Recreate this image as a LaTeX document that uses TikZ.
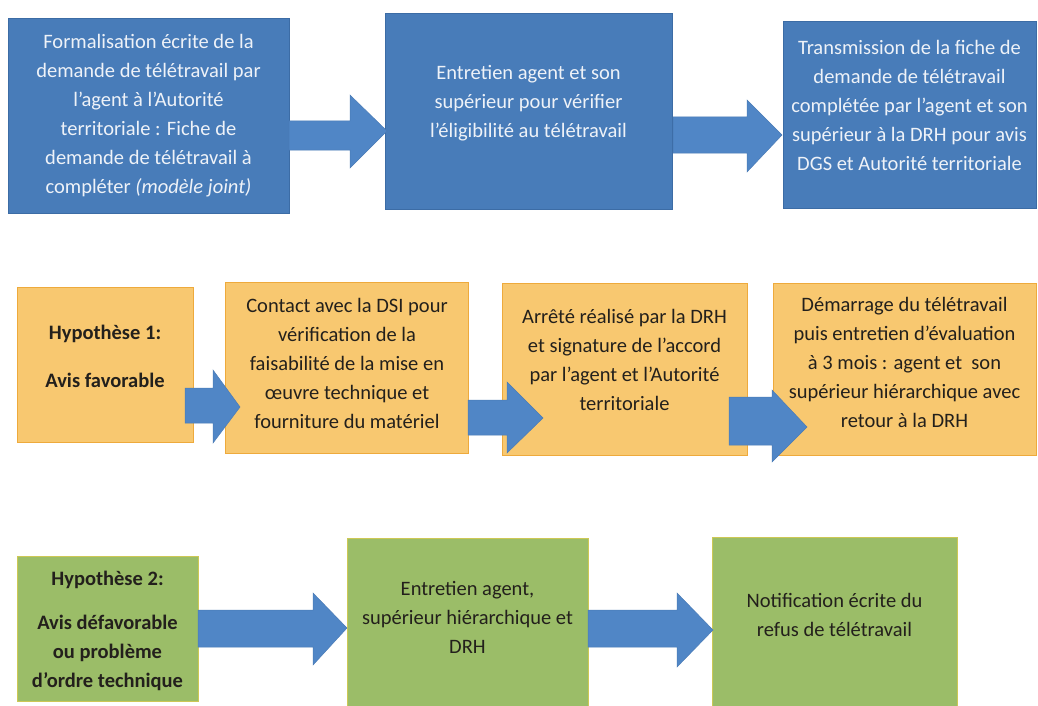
\documentclass[tikz,border=0pt]{standalone}
\usepackage{fontspec}
\setmainfont{Carlito}
\definecolor{boxblue}{RGB}{72,124,185}
\definecolor{boxblueedge}{RGB}{60,108,165}
\definecolor{arrowblue}{RGB}{80,134,198}
\definecolor{bluetext}{RGB}{238,242,248}
\definecolor{orfill}{RGB}{248,200,112}
\definecolor{oredge}{RGB}{238,170,60}
\definecolor{grfill}{RGB}{155,189,104}
\definecolor{gredge}{RGB}{205,200,85}
\definecolor{darktext}{RGB}{35,32,28}
\tikzset{
  boxbase/.style={rectangle, inner sep=0pt, outer sep=0pt, line width=0.8pt},
  bluebox/.style={boxbase, fill=boxblue, draw=boxblueedge},
  orbox/.style={boxbase, fill=orfill, draw=oredge},
  grbox/.style={boxbase, fill=grfill, draw=gredge},
  txt/.style={align=center, inner sep=0pt, font=\fontsize{20.5pt}{29pt}\selectfont},
  btxt/.style={txt, text=bluetext},
  dtxt/.style={txt, text=darktext},
}
\newcommand\blockarr[8]{%
  \fill[arrowblue, draw=arrowblue!92!black, line width=0.5pt]
    (#1,#4) -- (#2,#4) -- (#2,#6) -- (#3,#8) -- (#2,#7) -- (#2,#5) -- (#1,#5) -- cycle;}
\begin{document}
\begin{tikzpicture}[x=1pt,y=-1pt]
\useasboundingbox (0,0) rectangle (1038,706);
\fill[white] (0,0) rectangle (1038,706);
% top row
\node[bluebox, minimum width=281pt, minimum height=195pt] (b1) at (148.5,115.5) {};
\node[bluebox, minimum width=287pt, minimum height=196pt] (b2) at (528.5,111) {};
\node[bluebox, minimum width=253pt, minimum height=187pt] (b3) at (909.5,114.5) {};
% middle row
\node[orbox, minimum width=176pt, minimum height=155pt] (o1) at (105,364.5) {};
\node[orbox, minimum width=243pt, minimum height=171pt] (o2) at (347,367.5) {};
\node[orbox, minimum width=245pt, minimum height=172pt] (o3) at (624.5,369) {};
\node[orbox, minimum width=263pt, minimum height=172pt] (o4) at (904.5,369) {};
% bottom row
\node[grbox, minimum width=181pt, minimum height=145pt] (g1) at (107.5,628.5) {};
\node[grbox, minimum width=241pt, minimum height=174pt] (g2) at (467.5,625) {};
\node[grbox, minimum width=245pt, minimum height=174pt] (g3) at (834.5,624) {};
% arrows
\blockarr{289}{350}{387}{121}{150}{95}{168}{131}
\blockarr{673}{747}{782}{117}{153}{100}{172}{135}
\blockarr{185}{213}{240}{388}{423}{370}{443}{407}
\blockarr{468}{507}{543}{400}{435}{382}{453}{418}
\blockarr{729}{772}{807}{397}{445}{390}{462}{427}
\blockarr{198}{313}{347}{610}{647}{593}{665}{628}
\blockarr{588}{677}{713}{610}{647}{593}{667}{630}
% texts
\node[btxt] (b1t) at (148.5,116) {Formalisation écrite de la\\demande de télétravail par\\l’agent à l’Autorité\\territoriale : Fiche de\\demande de télétravail à\\compléter \textit{(modèle joint)}};
\node[btxt] (b2t) at (528.5,103) {Entretien agent et son\\supérieur pour vérifier\\l’éligibilité au télétravail};
\node[btxt] (b3t) at (909.5,105) {Transmission de la fiche de\\demande de télétravail\\complétée par l’agent et son\\supérieur à la DRH pour avis\\DGS et Autorité territoriale};
\node[dtxt, font=\fontsize{20.5pt}{29pt}\selectfont\bfseries] (o1t) at (105,356) {Hypothèse 1:\\[19pt]Avis favorable};
\node[dtxt] (o2t) at (347,363) {Contact avec la DSI pour\\vérification de la\\faisabilité de la mise en\\œuvre technique et\\fourniture du matériel};
\node[dtxt] (o3t) at (624.5,360) {Arrêté réalisé par la DRH\\et signature de l’accord\\par l’agent et l’Autorité\\territoriale};
\node[dtxt] (o4t) at (904.5,362) {Démarrage du télétravail\\puis entretien d’évaluation\\à 3 mois : agent et~~son\\supérieur hiérarchique avec\\retour à la DRH};
\node[dtxt, font=\fontsize{20.5pt}{29pt}\selectfont\bfseries] (g1t) at (107.5,631) {Hypothèse 2:\\[15pt]Avis défavorable\\ou problème\\d’ordre technique};
\node[dtxt] (g2t) at (467.5,617) {Entretien agent,\\supérieur hiérarchique et\\DRH};
\node[dtxt] (g3t) at (834.5,615) {Notification écrite du\\refus de télétravail};
\end{tikzpicture}
\end{document}
